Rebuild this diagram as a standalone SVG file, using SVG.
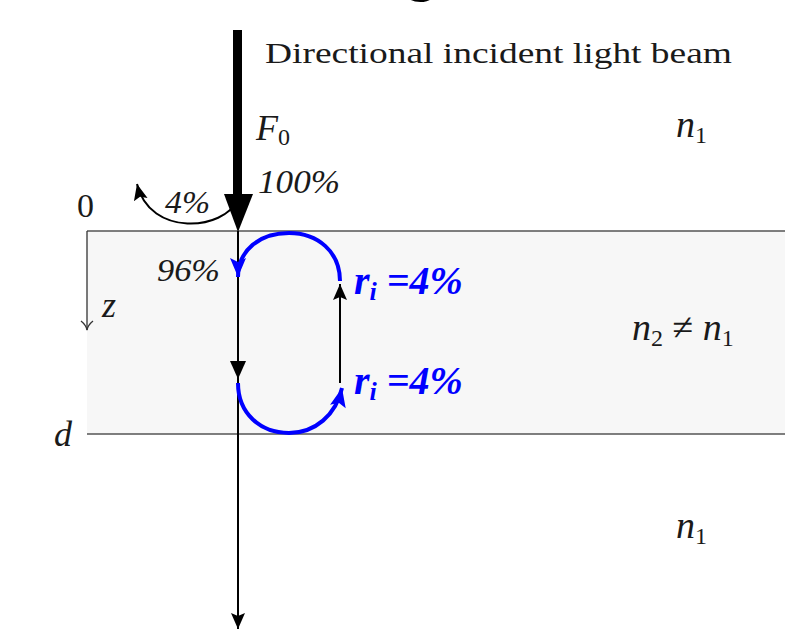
<svg xmlns="http://www.w3.org/2000/svg" width="785" height="631" viewBox="0 0 785 631">
<style>
.t{font-family:"Liberation Serif","DejaVu Serif",serif;fill:#1a1a1a}
.i{font-style:italic}
.b{font-family:"Liberation Serif","DejaVu Serif",serif;font-style:italic;font-weight:bold;fill:#0000ff;font-size:40px}
.blk{stroke:#000;stroke-width:2;fill:none}
.blu{stroke:#0000ff;stroke-width:4;fill:none}
.sub{font-size:24px}
</style>
<defs>
<marker id="hb" markerUnits="userSpaceOnUse" markerWidth="24" markerHeight="20" refX="20" refY="10" orient="auto" viewBox="0 0 24 20">
<path d="M20,10 L1,2 L5,10 L1,18 Z" fill="#0000ff"/>
</marker>
<marker id="hk" markerUnits="userSpaceOnUse" markerWidth="20" markerHeight="16" refX="16" refY="8" orient="auto" viewBox="0 0 20 16">
<path d="M16,8 L0,1 L3,8 L0,15 Z" fill="#000"/>
</marker>
<marker id="ho" markerUnits="userSpaceOnUse" markerWidth="14" markerHeight="14" refX="11" refY="7" orient="auto" viewBox="0 0 14 14">
<path d="M2,1 Q6,6 11,7 Q6,8 2,13" fill="none" stroke="#333" stroke-width="1.3"/>
</marker>
</defs>
<rect width="785" height="631" fill="#fff"/>
<text x="421" y="-10" font-family="Liberation Sans,Arial,sans-serif" font-weight="bold" font-size="60" text-anchor="middle" fill="#000">g</text>
<g id="slab">
<rect x="87" y="231" width="700" height="203" fill="#f7f7f7"/>
<line x1="87" y1="231" x2="785" y2="231" stroke="#555" stroke-width="1.6"/>
<line x1="87" y1="434" x2="785" y2="434" stroke="#555" stroke-width="1.6"/>
</g>
<g id="axis">
<line x1="87" y1="231" x2="87" y2="330" stroke="#333" stroke-width="1.3" marker-end="url(#ho)"/>
<text class="t" x="77" y="217" font-size="34">0</text>
<text class="t i" x="102" y="317" font-size="36">z</text>
<text class="t i" x="54" y="446" font-size="36">d</text>
</g>
<g id="labels">
<text class="t" x="265" y="63" font-size="30" textLength="467" lengthAdjust="spacingAndGlyphs">Directional incident light beam</text>
<text class="t i" x="256" y="140" font-size="36">F<tspan class="sub" font-style="normal" dy="5">0</tspan></text>
<text class="t i" x="258" y="193" font-size="34" textLength="82" lengthAdjust="spacingAndGlyphs">100%</text>
<text class="t i" x="165" y="213" font-size="32" textLength="45" lengthAdjust="spacingAndGlyphs">4%</text>
<text class="t i" x="157" y="281" font-size="32" textLength="63" lengthAdjust="spacingAndGlyphs">96%</text>
<text class="t i" x="676" y="137" font-size="38">n<tspan class="sub" font-style="normal" dy="6">1</tspan></text>
<text class="t" x="632" y="340" font-size="38"><tspan font-style="italic">n</tspan><tspan class="sub" dy="6">2</tspan><tspan dy="-6"> ≠ </tspan><tspan font-style="italic">n</tspan><tspan class="sub" dy="6">1</tspan></text>
<text class="t i" x="676" y="538" font-size="38">n<tspan class="sub" font-style="normal" dy="6">1</tspan></text>
<text class="b" x="354" y="294">r<tspan font-size="26" dy="6">i</tspan><tspan dy="-6"> =4%</tspan></text>
<text class="b" x="354" y="394">r<tspan font-size="26" dy="6">i</tspan><tspan dy="-6"> =4%</tspan></text>
</g>
<g id="connectors">
<rect x="233" y="30" width="9" height="168" fill="#000"/>
<polygon points="224,194 253,194 238,232" fill="#000"/>
<line class="blk" x1="238" y1="231" x2="238" y2="629" marker-end="url(#hk)"/>
<polygon points="230,361 246,361 238,379" fill="#000"/>
<path class="blk" d="M237,200 C225,230 150,238 137,184" marker-end="url(#hk)"/>
<line class="blk" x1="340" y1="383" x2="340" y2="284" marker-end="url(#hk)"/>
<path class="blu" d="M340,281 C340,252 318,233 289,233 C260,233 238,250 238,277" marker-end="url(#hb)"/>
<path class="blu" d="M238,383 C238,413 260,433 289,433 C315,433 336,415 342,388" marker-end="url(#hb)"/>
</g>
</svg>
